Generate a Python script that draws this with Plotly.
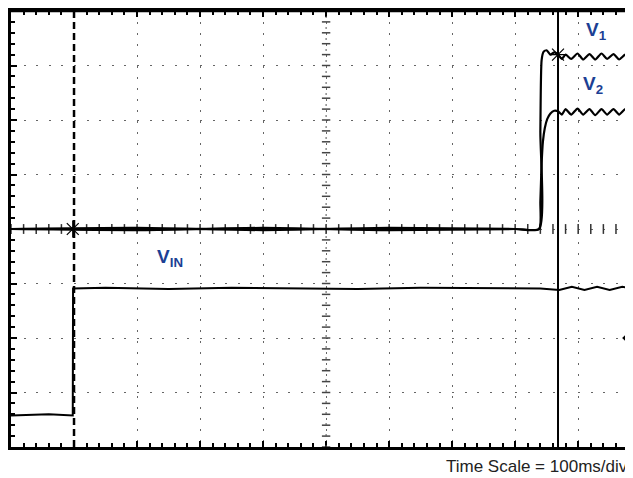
import numpy as np
import plotly.graph_objects as go

# ---- data (time in ms, amplitude in divisions) ----
v1_t = [0, 200, 400, 600, 800, 838, 840, 842, 845, 850, 856, 862, 868, 874, 880, 889, 899, 908, 918, 927, 937, 946, 956, 965, 975, 984, 990]
v1_v = [0, 0.02, -0.02, 0.02, 0, 0, 1.8, 3.1, 3.25, 3.28, 3.2, 3.24, 3.2, 3.12, 3.2, 3.12, 3.22, 3.11, 3.21, 3.11, 3.22, 3.12, 3.21, 3.11, 3.2, 3.12, 3.2]

v2_t = [0, 200, 400, 600, 800, 838, 840, 842, 844, 847, 851, 856, 862, 868, 874, 880, 889, 899, 908, 918, 927, 937, 946, 956, 965, 975, 984, 990]
v2_v = [0, -0.02, 0.02, -0.02, 0, 0, 0.5, 1.2, 1.6, 1.85, 2.02, 2.12, 2.17, 2.16, 2.1, 2.2, 2.1, 2.21, 2.1, 2.2, 2.09, 2.2, 2.1, 2.2, 2.1, 2.2, 2.1, 2.18]

vin_t = [0, 60, 98, 98.5, 150, 250, 350, 450, 550, 650, 750, 840, 870, 890, 910, 930, 950, 970, 990]
vin_v = [-3.42, -3.40, -3.42, -1.09, -1.08, -1.1, -1.08, -1.09, -1.1, -1.08, -1.09, -1.09, -1.12, -1.06, -1.12, -1.06, -1.12, -1.06, -1.1]

trigger_t = [98]
trigger_v = [0]
cursor_t = 868
marker_t = [868]
marker_v = [3.2]

x_max = 987
label_color = "#1c3f94"

fig = go.Figure()

# center axis ticks (decoration)
tick_x = np.arange(0, x_max, 20)
tick_y = np.arange(-4, 4.01, 0.2)
fig.add_trace(go.Scatter(x=tick_x, y=np.zeros_like(tick_x), mode="markers",
                         marker=dict(symbol="line-ns", size=7, color="#333", line=dict(width=1.5, color="#333")),
                         hoverinfo="skip", showlegend=False))
fig.add_trace(go.Scatter(x=np.full_like(tick_y, 500), y=tick_y, mode="markers",
                         marker=dict(symbol="line-ew", size=6, color="#444", line=dict(width=1.5, color="#444")),
                         hoverinfo="skip", showlegend=False))

# traces
fig.add_trace(go.Scatter(x=vin_t, y=vin_v, mode="lines", line=dict(color="black", width=2),
                         showlegend=False))
fig.add_trace(go.Scatter(x=v2_t, y=v2_v, mode="lines", line=dict(color="black", width=2.2, shape="spline", smoothing=0.6),
                         showlegend=False))
fig.add_trace(go.Scatter(x=v1_t, y=v1_v, mode="lines", line=dict(color="black", width=2.2, shape="spline", smoothing=0.6),
                         showlegend=False))

# asterisk markers
fig.add_trace(go.Scatter(x=trigger_t + marker_t, y=trigger_v + marker_v, mode="markers",
                         marker=dict(symbol="asterisk-open", size=14, color="black", line=dict(width=1.2, color="black")),
                         showlegend=False))

# cursors
fig.add_vline(x=100, line=dict(color="black", width=2.5, dash="7px,4px"))
fig.add_vline(x=cursor_t, line=dict(color="black", width=2))
fig.add_vline(x=500, line=dict(color="#555", width=1, dash="2px,9px"))

# labels
lab_font = dict(family="Liberation Sans, Arial", size=19, color=label_color)
fig.add_annotation(x=929, y=3.64, text="<b>V<sub>1</sub></b>", showarrow=False, font=lab_font)
fig.add_annotation(x=924, y=2.64, text="<b>V<sub>2</sub></b>", showarrow=False, font=lab_font)
fig.add_annotation(x=252, y=-0.53, text="<b>V<sub>IN</sub></b>", showarrow=False, font=lab_font)
fig.add_annotation(xref="paper", yref="paper", x=1.0, y=-0.0457, xanchor="right", yanchor="middle",
                   xshift=-3, text="Time Scale = 100ms/div", showarrow=False,
                   font=dict(family="Liberation Sans, Arial", size=17, color="#222"))

# edge markers
fig.add_shape(type="rect", xref="paper", yref="y", x0=-0.011, x1=0.0, y0=-0.18, y1=0.12,
              fillcolor="black", line=dict(width=0))
fig.add_shape(type="line", xref="paper", yref="y", x0=-0.008, x1=0.0, y0=-3.62, y1=-3.62,
              line=dict(color="black", width=2))
fig.add_shape(type="line", xref="paper", yref="paper", x0=0, x1=1, y0=1, y1=1,
              line=dict(color="black", width=2.5))
fig.add_trace(go.Scatter(x=[x_max - 10], y=[-2.0], mode="markers",
                         marker=dict(symbol="diamond", size=7, color="black"),
                         showlegend=False, cliponaxis=False))

fig.update_xaxes(range=[0, x_max], showticklabels=False, zeroline=False,
                 showgrid=True, gridcolor="#666", gridwidth=1.2, griddash="2px,9px", dtick=100,
                 showline=True, linecolor="black", linewidth=2.5, mirror="allticks",
                 ticks="inside", ticklen=6, tickwidth=1.5, tickcolor="black",
                 minor=dict(dtick=20, ticks="inside", ticklen=4, tickcolor="black", showgrid=False))
fig.update_yaxes(range=[-4, 4], showticklabels=False, zeroline=False,
                 showgrid=True, gridcolor="#666", gridwidth=1.2, griddash="2px,10.6px", dtick=1,
                 showline=True, linecolor="black", linewidth=2.5,
                 ticks="inside", ticklen=6, tickwidth=1.5, tickcolor="black",
                 minor=dict(dtick=0.2, ticks="inside", ticklen=4, tickcolor="black", showgrid=False))

# the page keeps its default 8px body margin; the figure fills the rest of the window
fig.update_layout(width=625, height=470, margin=dict(l=3, r=0, t=1, b=31),
                  plot_bgcolor="white", paper_bgcolor="white")

fig.write_html("out.html", config={"displayModeBar": False})
